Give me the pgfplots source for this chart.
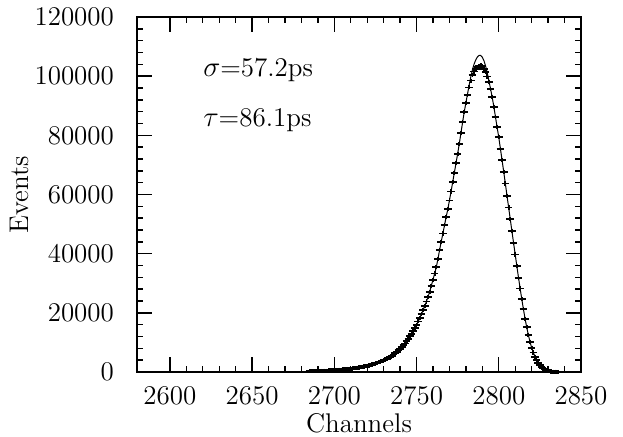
\documentclass[border=0pt]{standalone}
\usepackage{pgfplots}
\pgfplotsset{compat=1.18}
\usepackage{pgfplotstable}

% channel, measured events, fitted curve
\pgfplotstableread{
c d f
2685 220 220
2686 236 236
2687 253 253
2688 271 271
2689 290 290
2690 310 310
2691 331 331
2692 354 354
2693 378 378
2694 403 403
2695 430 430
2696 459 459
2697 490 490
2698 523 523
2699 560 560
2700 600 600
2701 643 643
2702 688 688
2703 728 728
2704 778 778
2705 830 830
2706 885 885
2707 943 943
2708 1000 1000
2709 1063 1063
2710 1130 1130
2711 1200 1200
2712 1280 1280
2713 1360 1360
2714 1450 1450
2715 1540 1540
2716 1640 1640
2717 1740 1740
2718 1850 1850
2719 1960 1960
2720 2080 2080
2721 2220 2220
2722 2370 2370
2723 2520 2520
2724 2680 2680
2725 2850 2850
2726 3040 3040
2727 3250 3250
2728 3460 3460
2729 3700 3700
2730 3950 3950
2731 4230 4230
2732 4520 4520
2733 4830 4830
2734 5150 5150
2735 5500 5500
2736 5900 5900
2737 6350 6350
2738 6800 6800
2739 7300 7300
2740 7850 7850
2741 8420 8420
2742 9020 9020
2743 9650 9650
2744 10400 10400
2745 11200 11200
2746 12050 12050
2747 12900 12900
2748 13800 13800
2749 14800 14800
2750 15900 15900
2751 17100 17100
2752 18300 18300
2753 19600 19600
2754 20950 20950
2755 22350 22350
2756 23800 23800
2757 25450 25450
2758 27150 27150
2759 29200 29200
2760 31200 31200
2761 33300 33300
2762 35400 35400
2763 38200 38200
2764 41200 41200
2765 44000 44000
2766 46800 46800
2767 49600 49600
2768 52400 52400
2769 55000 55000
2770 58000 58000
2771 61000 61000
2772 64300 64300
2773 67400 67400
2774 70600 70600
2775 73800 73800
2776 77200 77200
2777 80800 80800
2778 84400 84400
2779 87900 87900
2780 90800 91000
2781 93600 94000
2782 96200 97000
2783 98500 99800
2784 100300 102200
2785 101600 104100
2786 102500 105500
2787 103100 106500
2788 103500 107000
2789 103600 107000
2790 103300 106400
2791 102500 105200
2792 101300 103400
2793 99900 101100
2794 98000 98500
2795 95700 95700
2796 92900 92900
2797 89700 89700
2798 86200 86200
2799 82700 82700
2800 79300 79300
2801 75500 75500
2802 71600 71600
2803 67700 67700
2804 63700 63700
2805 59600 59600
2806 55600 55600
2807 51600 51600
2808 47600 47600
2809 43600 43600
2810 39700 39700
2811 35800 35800
2812 31900 31900
2813 28200 28200
2814 24600 24600
2815 21200 21200
2816 18000 18000
2817 15100 15100
2818 12500 12500
2819 10200 10200
2820 8200 8200
2821 6600 6600
2822 5200 5200
2823 4000 4000
2824 3000 3000
2825 2300 2300
2826 1700 1700
2827 1200 1200
2828 850 850
2829 580 580
2830 390 390
2831 250 250
2832 160 160
2833 100 100
2834 60 60
2835 35 35
2836 20 20
}\spectrum

\begin{document}
\begin{tikzpicture}
\begin{axis}[
  scale only axis, width=222pt, height=177.5pt,
  xmin=2580, xmax=2850, ymin=0, ymax=120000,
  xtick={2600,2650,2700,2750,2800,2850},
  ytick={0,20000,40000,60000,80000,100000,120000},
  minor tick num=4,
  tick align=inside, tick pos=both,
  major tick length=7.5pt, minor tick length=3pt,
  axis line style={line width=0.8pt},
  every tick/.style={line width=0.7pt, black},
  scaled y ticks=false,
  /pgf/number format/fixed,
  /pgf/number format/1000 sep={},
  /pgf/number format/assume math mode=true,
  tick label style={font=\fontsize{13.5}{15}\selectfont},
  label style={font=\fontsize{13.5}{15}\selectfont},
  xticklabel style={yshift=-3.5pt},
  yticklabel style={xshift=-8pt},
  xlabel={Channels}, ylabel={Events},
  xlabel style={yshift=2.5pt},
  ylabel style={yshift=-4pt},
]
\addplot[black, line width=0.5pt, mark=none] table[x=c, y=f] {\spectrum};
\addplot[black, only marks, mark=+, mark size=1.9pt,
  mark options={line width=0.9pt, yscale=0.55}] table[x=c, y=d] {\spectrum};
\node[anchor=west, font=\fontsize{13.5}{15}\selectfont] at (axis cs:2616,102000) {$\sigma$=57.2ps};
\node[anchor=west, font=\fontsize{13.5}{15}\selectfont] at (axis cs:2616,85000) {$\tau$=86.1ps};
\end{axis}
\pgfresetboundingbox
\path[use as bounding box] ([xshift=-68.5pt,yshift=-32.5pt]current axis.south west)
  rectangle ([xshift=21pt,yshift=8.5pt]current axis.north east);
\end{tikzpicture}
\end{document}
